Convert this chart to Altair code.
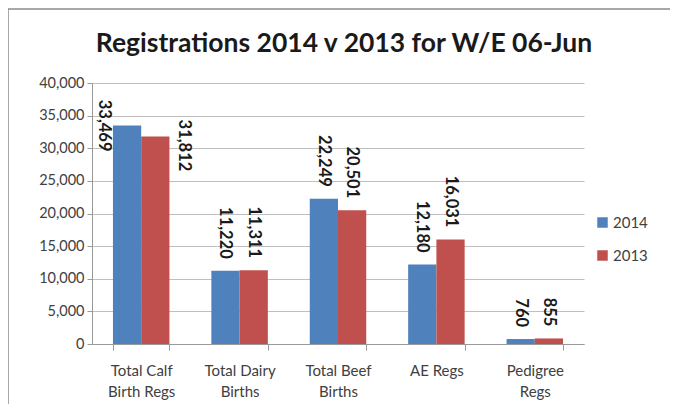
import altair as alt
import pandas as pd

categories = ["Total Calf\nBirth Regs", "Total Dairy\nBirths", "Total Beef\nBirths", "AE Regs", "Pedigree\nRegs"]
series = ["2014", "2013"]
values_2014 = [33469, 11220, 22249, 12180, 760]
values_2013 = [31812, 11311, 20501, 16031, 855]
colors = ["#4F81BD", "#C0504D"]
y_ticks = [0, 5000, 10000, 15000, 20000, 25000, 30000, 35000, 40000]

rows = []
for c, a, b in zip(categories, values_2014, values_2013):
    rows.append({"category": c, "series": "2014", "value": a})
    rows.append({"category": c, "series": "2013", "value": b})
df = pd.DataFrame(rows)

FONT = "Lato"

x_scale = alt.Scale(paddingInner=0.426, paddingOuter=0.213)
x_axis = alt.Axis(title=None, labelAngle=0, labelExpr="split(datum.label, '\\n')",
                  labelFont=FONT, labelFontSize=15, labelColor="#404040",
                  labelLineHeight=21, labelPadding=13,
                  tickBand="extent", tickSize=6, tickColor="#999999",
                  domainColor="#999999", grid=False)
y_scale = alt.Scale(domain=[0, 40000], nice=False)
y_axis = alt.Axis(title=None, values=y_ticks, format=",d", labelFont=FONT, labelFontSize=14.5,
                  labelColor="#404040", gridColor="#BFBFBF", domainColor="#999999",
                  tickColor="#999999", tickSize=5, labelPadding=3, labelOverlap=False)
xoff = alt.XOffset("series:N", sort=series, scale=alt.Scale(paddingInner=0, paddingOuter=0))

x_enc = alt.X("category:N", sort=categories, scale=x_scale, axis=x_axis)
y_enc = alt.Y("value:Q", scale=y_scale, axis=y_axis)

bars = alt.Chart(df).mark_bar().encode(
    x=x_enc,
    xOffset=xoff,
    y=y_enc,
    color=alt.Color("series:N", sort=series, scale=alt.Scale(domain=series, range=colors),
                    legend=alt.Legend(title=None, orient="none", legendX=503, legendY=132,
                                      symbolType="square", symbolSize=110, symbolStrokeWidth=0,
                                      labelFont=FONT, labelFontSize=15, labelColor="#404040",
                                      rowPadding=17, labelOffset=3)),
)

text_style = dict(angle=90, fontWeight="bold", font=FONT, fontSize=16.5, color="#1a1a1a", baseline="middle")


def label_layer(flt, **kw):
    return alt.Chart(df).transform_filter(flt).mark_text(**text_style, **kw).encode(
        x=x_enc, xOffset=xoff, y=y_enc, text=alt.Text("value:Q", format=","))


# with angle=90, dx runs down the screen and dy runs to the left
labels_normal = label_layer("datum.value <= 30000", align="right", dx=-12)
labels_hi_a = label_layer("datum.value > 30000 && datum.series == '2014'", align="center", dy=23)
labels_hi_b = label_layer("datum.value > 30000 && datum.series == '2013'", align="center", dy=-29, dx=9)

frame = alt.Chart(pd.DataFrame({"k": [0]})).mark_rect(
    fill=None, stroke="#8C8C8C", strokeWidth=1.5, clip=False).encode(
    x=alt.value(-84), x2=alt.value(700), y=alt.value(-74), y2=alt.value(400))

chart = alt.layer(frame, bars, labels_normal, labels_hi_a, labels_hi_b).properties(
    width=492, height=261,
    autosize=alt.AutoSizeParams(type="none"),
    padding={"left": 84, "top": 75, "right": 86, "bottom": 60},
    title=alt.TitleParams("Registrations 2014 v 2013 for W/E 06-Jun", font=FONT, fontSize=26.5,
                          fontWeight="bold", color="#1a1a1a", anchor="middle", dx=6, offset=-49),
).configure_view(stroke=None).configure_axis(domainWidth=1)

chart.save("out.html", embed_options={"renderer": "svg", "actions": False})
